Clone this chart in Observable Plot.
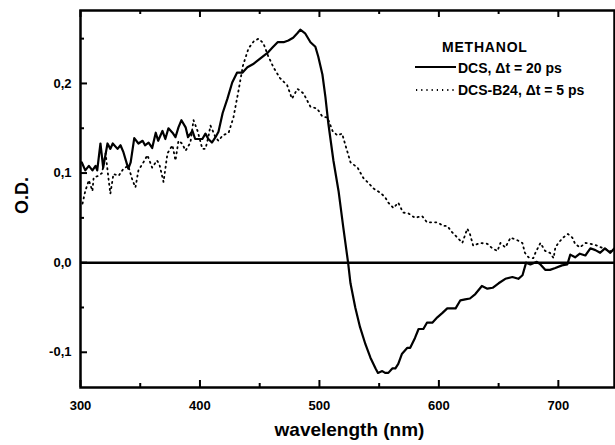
<!DOCTYPE html>
<html>
<head>
<meta charset="utf-8">
<script src="https://cdn.jsdelivr.net/npm/d3@7"></script>
<script src="https://cdn.jsdelivr.net/npm/@observablehq/plot@0.6"></script>
<style>
  html, body { margin: 0; padding: 0; background: #fff; }
  #wrap { position: relative; width: 615px; height: 445px; overflow: hidden; }
  #legend { position: absolute; left: 0; top: 0; pointer-events: none; }
  #legend text { font-family: "Liberation Sans", Arial, sans-serif; font-weight: bold; font-size: 14px; fill: #000; }
</style>
</head>
<body>
<div id="wrap"></div>
<script>
// DCS in methanol, Δt = 20 ps (solid)
const dcsWavelength = [301,304,307,310,312.6,314,316.7,319,322.6,325,327,331,333.5,336,340,342,345,348.5,352,354,357,360,363,365,368.6,371,373.6,377,379.5,382,384.5,388,390,393.7,396,399,402,404.6,407,410,413,415.5,419,423,427,431,435.5,439.7,445,450.6,456.5,460.7,465,470,474,478,481.5,484,488,492.5,496.6,499,502.5,505,507.5,511.7,516,520,524,526,530,534,538.5,542.7,547,549,552.6,555,557.7,561,563.6,566,569,573.6,576,580,583,587,590,594.5,598.7,603,607,611,614,618,622,626,630.5,636,640.6,645,650,655.6,661.5,666.5,670,673,676.6,682,685,689,693,697.5,703,707.5,710,714,718,722.6,726.8,731,735,739,743.5,747];
const dcsOD = [0.112,0.103,0.108,0.103,0.108,0.103,0.133,0.106,0.133,0.127,0.133,0.127,0.131,0.123,0.105,0.112,0.139,0.133,0.136,0.131,0.134,0.128,0.145,0.136,0.147,0.138,0.150,0.145,0.140,0.151,0.159,0.151,0.140,0.147,0.138,0.138,0.138,0.144,0.138,0.134,0.140,0.146,0.167,0.183,0.201,0.212,0.212,0.218,0.222,0.228,0.234,0.240,0.246,0.246,0.248,0.251,0.256,0.260,0.256,0.246,0.241,0.230,0.210,0.185,0.155,0.114,0.080,0.039,0.000,-0.023,-0.050,-0.072,-0.091,-0.106,-0.118,-0.123,-0.121,-0.123,-0.123,-0.118,-0.118,-0.113,-0.102,-0.095,-0.095,-0.084,-0.074,-0.074,-0.067,-0.067,-0.061,-0.056,-0.051,-0.051,-0.051,-0.042,-0.041,-0.040,-0.035,-0.026,-0.029,-0.028,-0.023,-0.018,-0.016,-0.018,-0.014,0.000,-0.002,0.001,-0.002,-0.008,-0.008,-0.006,-0.003,-0.002,0.009,0.006,0.010,0.008,0.016,0.014,0.011,0.016,0.011,0.016];

// DCS-B24 in methanol, Δt = 5 ps (dotted)
const b24Wavelength = [301.7,304,307,310,311,315,318,321,323.6,325,327.6,332,336,340,343.5,346,348.5,352.7,356,360,364,366,369.5,372.8,377,379.5,382,385,388,392,394.6,398,402,404.6,407,408.8,413,415.5,419,424,428,432,436,440.6,445,449,453,457,461.5,467,473,477,481.6,486.6,492.5,498,502.5,506.7,511,515,519,521.8,526,532,534,537,541,545,551,555,557.7,562,566,570,574.5,580,586,590,598.7,603.8,607,611,615.5,619.6,623.8,626,628.7,634.7,640.6,644.7,649,651.5,655.6,660,665.7,669.9,672,675,679,680.8,685,689,693,696,697.5,700,704,708,711.7,714,718,722.6,726.8,732.6,737.6,743.5];
const b24OD = [0.066,0.080,0.092,0.080,0.095,0.097,0.100,0.122,0.092,0.077,0.099,0.097,0.105,0.108,0.092,0.084,0.103,0.112,0.120,0.106,0.114,0.110,0.090,0.122,0.131,0.114,0.136,0.133,0.125,0.134,0.159,0.147,0.127,0.127,0.140,0.153,0.140,0.136,0.142,0.145,0.162,0.190,0.220,0.239,0.247,0.250,0.245,0.231,0.218,0.206,0.198,0.183,0.194,0.189,0.174,0.172,0.163,0.162,0.147,0.142,0.144,0.131,0.112,0.106,0.101,0.094,0.089,0.083,0.078,0.073,0.067,0.061,0.067,0.056,0.055,0.050,0.052,0.045,0.045,0.041,0.041,0.034,0.028,0.022,0.038,0.032,0.019,0.022,0.021,0.016,0.013,0.022,0.017,0.028,0.025,0.022,0.011,0.006,0.005,0.011,0.022,0.013,0.011,0.005,0.017,0.022,0.028,0.032,0.028,0.021,0.017,0.022,0.021,0.019,0.016,0.013];

const xMajorTicks = [300, 400, 500, 600, 700];
const xMinorTicks = [350, 450, 550, 650];
const yMajorTicks = [-0.1, 0.0, 0.1, 0.2];
const yMinorTicks = [-0.05, 0.05, 0.15, 0.25];
const xDomain = [300, 747];
const yDomain = [-0.1393, 0.2814];
const xLabel = "wavelength (nm)";
const yLabel = "O.D.";
const legendTitle = "METHANOL";
const seriesNames = ["DCS, \u0394t = 20 ps", "DCS-B24, \u0394t = 5 ps"];

const dcs = dcsWavelength.map((w, i) => ({w, od: dcsOD[i]}));
const b24 = b24Wavelength.map((w, i) => ({w, od: b24OD[i]}));
const fmtY = d => d3.format(".1f")(d).replace(".", ",").replace("\u2212", "-");

const W = 615, H = 445, mL = 80, mR = 1, mT = 10, mB = 58;
const plotW = W - mL - mR, plotH = H - mT - mB;
const majorLen = 7, minorLen = 4;
const dotted = "1.2,4";

const chart = Plot.plot({
  width: W,
  height: H,
  marginLeft: mL,
  marginRight: mR,
  marginTop: mT,
  marginBottom: mB,
  style: {fontFamily: "Liberation Sans, Arial, sans-serif", fontWeight: "bold", fontSize: "13px", color: "#000", background: "#fff"},
  x: {domain: xDomain},
  y: {domain: yDomain},
  marks: [
    Plot.ruleY([0], {stroke: "#000", strokeWidth: 2.5}),
    Plot.line(b24, {x: "w", y: "od", stroke: "#000", strokeWidth: 1.8, strokeDasharray: dotted}),
    Plot.line(dcs, {x: "w", y: "od", stroke: "#000", strokeWidth: 2.2}),
    Plot.frame({stroke: "#000", strokeWidth: 2.5}),
    // inward ticks (bottom, top, left)
    Plot.ruleX(xMajorTicks, {insetTop: plotH - majorLen, stroke: "#000", strokeWidth: 2}),
    Plot.ruleX(xMinorTicks, {insetTop: plotH - minorLen, stroke: "#000", strokeWidth: 2}),
    Plot.ruleX(xMajorTicks, {insetBottom: plotH - majorLen, stroke: "#000", strokeWidth: 2}),
    Plot.ruleX(xMinorTicks, {insetBottom: plotH - minorLen, stroke: "#000", strokeWidth: 2}),
    Plot.ruleY(yMajorTicks, {insetRight: plotW - majorLen, stroke: "#000", strokeWidth: 2}),
    Plot.ruleY(yMinorTicks, {insetRight: plotW - minorLen, stroke: "#000", strokeWidth: 2}),
    // tick labels
    Plot.axisX({ticks: xMajorTicks, anchor: "bottom", tickSize: 0, tickPadding: 13, label: null, tickFormat: d => String(d), fontSize: 13, fontWeight: "bold"}),
    Plot.axisY({ticks: yMajorTicks, anchor: "left", tickSize: 0, tickPadding: 9, label: null, tickFormat: fmtY, fontSize: 13, fontWeight: "bold"}),
    // axis titles
    Plot.text([xLabel], {frameAnchor: "bottom", dx: 2, dy: 48, fontSize: 19, fontWeight: "bold", fill: "#000"}),
    Plot.text([yLabel], {frameAnchor: "left", dx: -58, dy: 15, rotate: -90, fontSize: 18, fontWeight: "bold", fill: "#000"})
  ]
});

const wrap = document.getElementById("wrap");
wrap.appendChild(chart);

// legend (added over the plot area, top-right)
const NS = "http://www.w3.org/2000/svg";
const leg = document.createElementNS(NS, "svg");
leg.setAttribute("id", "legend");
leg.setAttribute("width", W);
leg.setAttribute("height", H);
function addText(x, y, s, extra) {
  const t = document.createElementNS(NS, "text");
  t.setAttribute("x", x); t.setAttribute("y", y);
  if (extra) t.setAttribute("letter-spacing", extra);
  t.textContent = s; leg.appendChild(t);
}
function addLine(x1, x2, y, dash) {
  const l = document.createElementNS(NS, "line");
  l.setAttribute("x1", x1); l.setAttribute("x2", x2);
  l.setAttribute("y1", y); l.setAttribute("y2", y);
  l.setAttribute("stroke", "#000"); l.setAttribute("stroke-width", dash ? 1.8 : 2);
  if (dash) l.setAttribute("stroke-dasharray", dash);
  leg.appendChild(l);
}
addText(442, 52, legendTitle, "0.8");
addLine(415, 456, 67, null);
addText(458, 73, seriesNames[0]);
addLine(416, 456, 90, dotted);
addText(458, 95, seriesNames[1]);
wrap.appendChild(leg);
</script>
</body>
</html>
